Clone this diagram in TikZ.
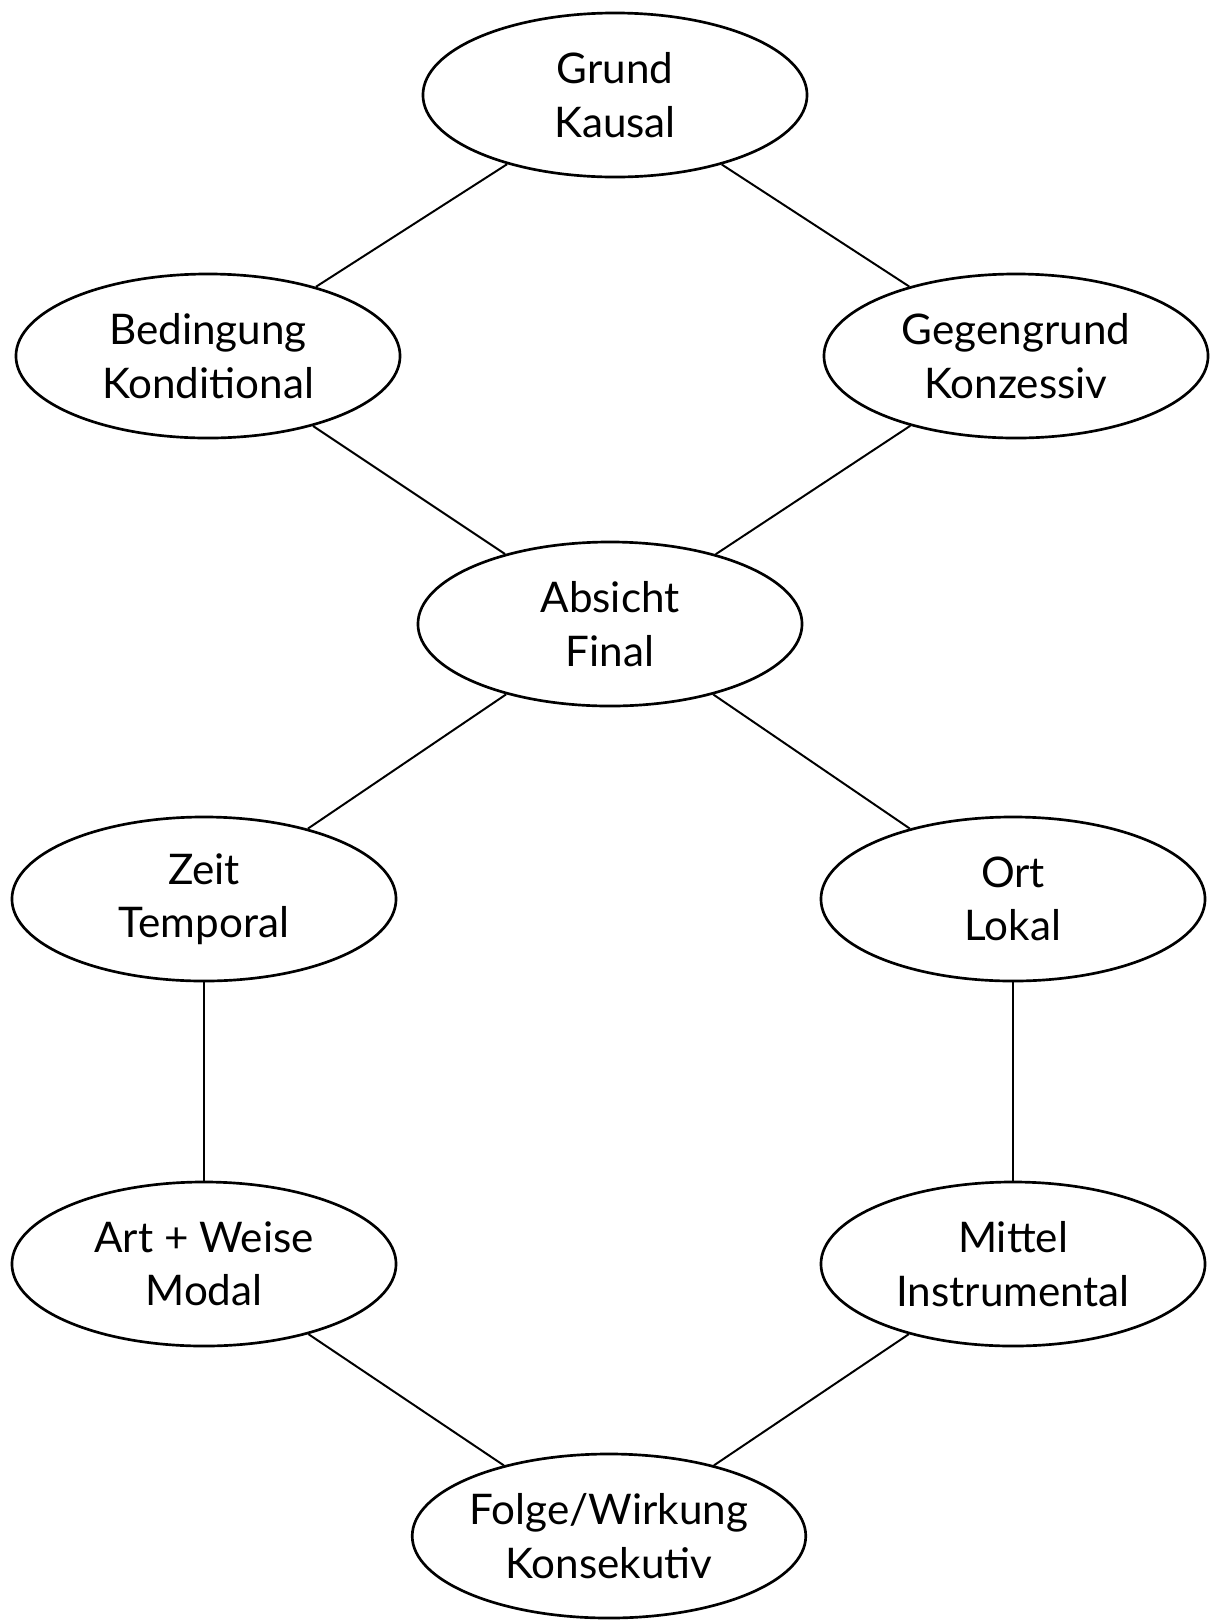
\documentclass[tikz,border=0pt]{standalone}
\usepackage{fontspec}
\setmainfont{Lato}
\usetikzlibrary{shapes.geometric}
\begin{document}
\begin{tikzpicture}[x=0.025cm,y=-0.025cm,
  oval/.style={ellipse,draw,line width=1.9pt,minimum width=9.6cm,minimum height=4.1cm,inner sep=0pt,align=center,font=\fontsize{30}{38}\selectfont},
  link/.style={line width=1.4pt}]
\useasboundingbox (0,0) rectangle (1222,1620);
\node[oval] (grund) at (615,95) {Grund\\Kausal};
\node[oval] (bed) at (208,356) {Bedingung\\Konditional};
\node[oval] (gegen) at (1016,356) {Gegengrund\\Konzessiv};
\node[oval] (absicht) at (610,624) {Absicht\\Final};
\node[oval] (zeit) at (204,899) {Zeit\\Temporal};
\node[oval] (ort) at (1013,899) {Ort\\Lokal};
\node[oval] (art) at (204,1264) {Art + Weise\\Modal};
\node[oval] (mittel) at (1013,1264) {Mittel\\Instrumental};
\node[oval] (folge) at (609,1536) {Folge/Wirkung\\Konsekutiv};
\draw[link] (grund) -- (bed);
\draw[link] (grund) -- (gegen);
\draw[link] (bed) -- (absicht);
\draw[link] (gegen) -- (absicht);
\draw[link] (absicht) -- (zeit);
\draw[link] (absicht) -- (ort);
\draw[link] (zeit) -- (art);
\draw[link] (ort) -- (mittel);
\draw[link] (art) -- (folge);
\draw[link] (mittel) -- (folge);
\end{tikzpicture}
\end{document}
